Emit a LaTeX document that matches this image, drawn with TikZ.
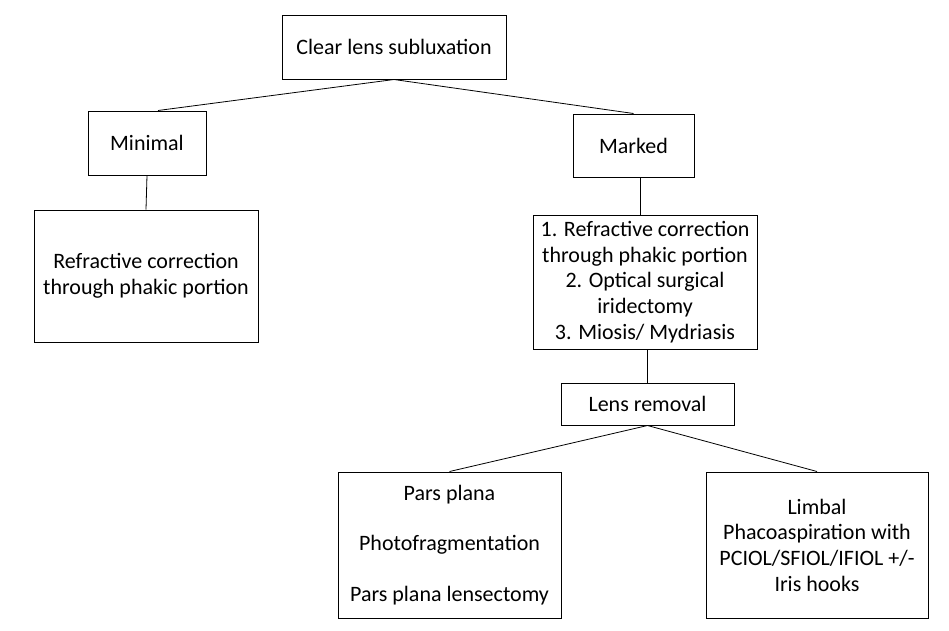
\documentclass[tikz,border=0pt]{standalone}
\usepackage{fontspec}
\setmainfont{Carlito}
\begin{document}
\begin{tikzpicture}[x=1pt,y=-1pt,
  box/.style={draw=black,line width=1pt,rectangle,inner sep=0pt,align=center,
    font=\fontsize{22pt}{25.7pt}\selectfont},
  link/.style={draw=black,line width=0.8pt}]
\useasboundingbox[fill=white] (0,0) rectangle (949,630);
\node[box,minimum width=224pt,minimum height=64pt] (root) at (394,47) {Clear lens subluxation};
\node[box,minimum width=118pt,minimum height=64pt] (mini) at (147,143) {Minimal};
\node[box,minimum width=224pt,minimum height=132pt] (refl) at (146,276) {Refractive correction\\through phakic portion};
\node[box,minimum width=121pt,minimum height=63pt] (marked) at (633.5,145.5) {Marked};
\node[box,minimum width=224pt,minimum height=134pt] (list) at (645,282) {1. Refractive correction\\through phakic portion\\2. Optical surgical\\iridectomy\\3. Miosis/ Mydriasis};
\node[box,minimum width=173pt,minimum height=42pt] (lens) at (647.5,404) {Lens removal};
\node[box,minimum width=223pt,minimum height=146pt] (pars) at (449.5,545) {Pars plana\\[25pt]Photofragmentation\\[25pt]Pars plana lensectomy};
\node[box,minimum width=222pt,minimum height=146pt] (limbal) at (817,545) {Limbal\\Phacoaspiration with\\PCIOL/SFIOL/IFIOL +/-\\Iris hooks};
\draw[link] (root.south) -- ([xshift=11pt]mini.north);
\draw[link] (root.south) -- (marked.north);
\draw[link] (mini.south) -- (refl.north);
\draw[link] ([xshift=6.5pt]marked.south) -- ([xshift=-5pt]list.north);
\draw[link] (lens.north) -- (lens.north |- list.south);
\draw[link] (lens.south) -- (pars.north);
\draw[link] (lens.south) -- (limbal.north);
\end{tikzpicture}
\end{document}
